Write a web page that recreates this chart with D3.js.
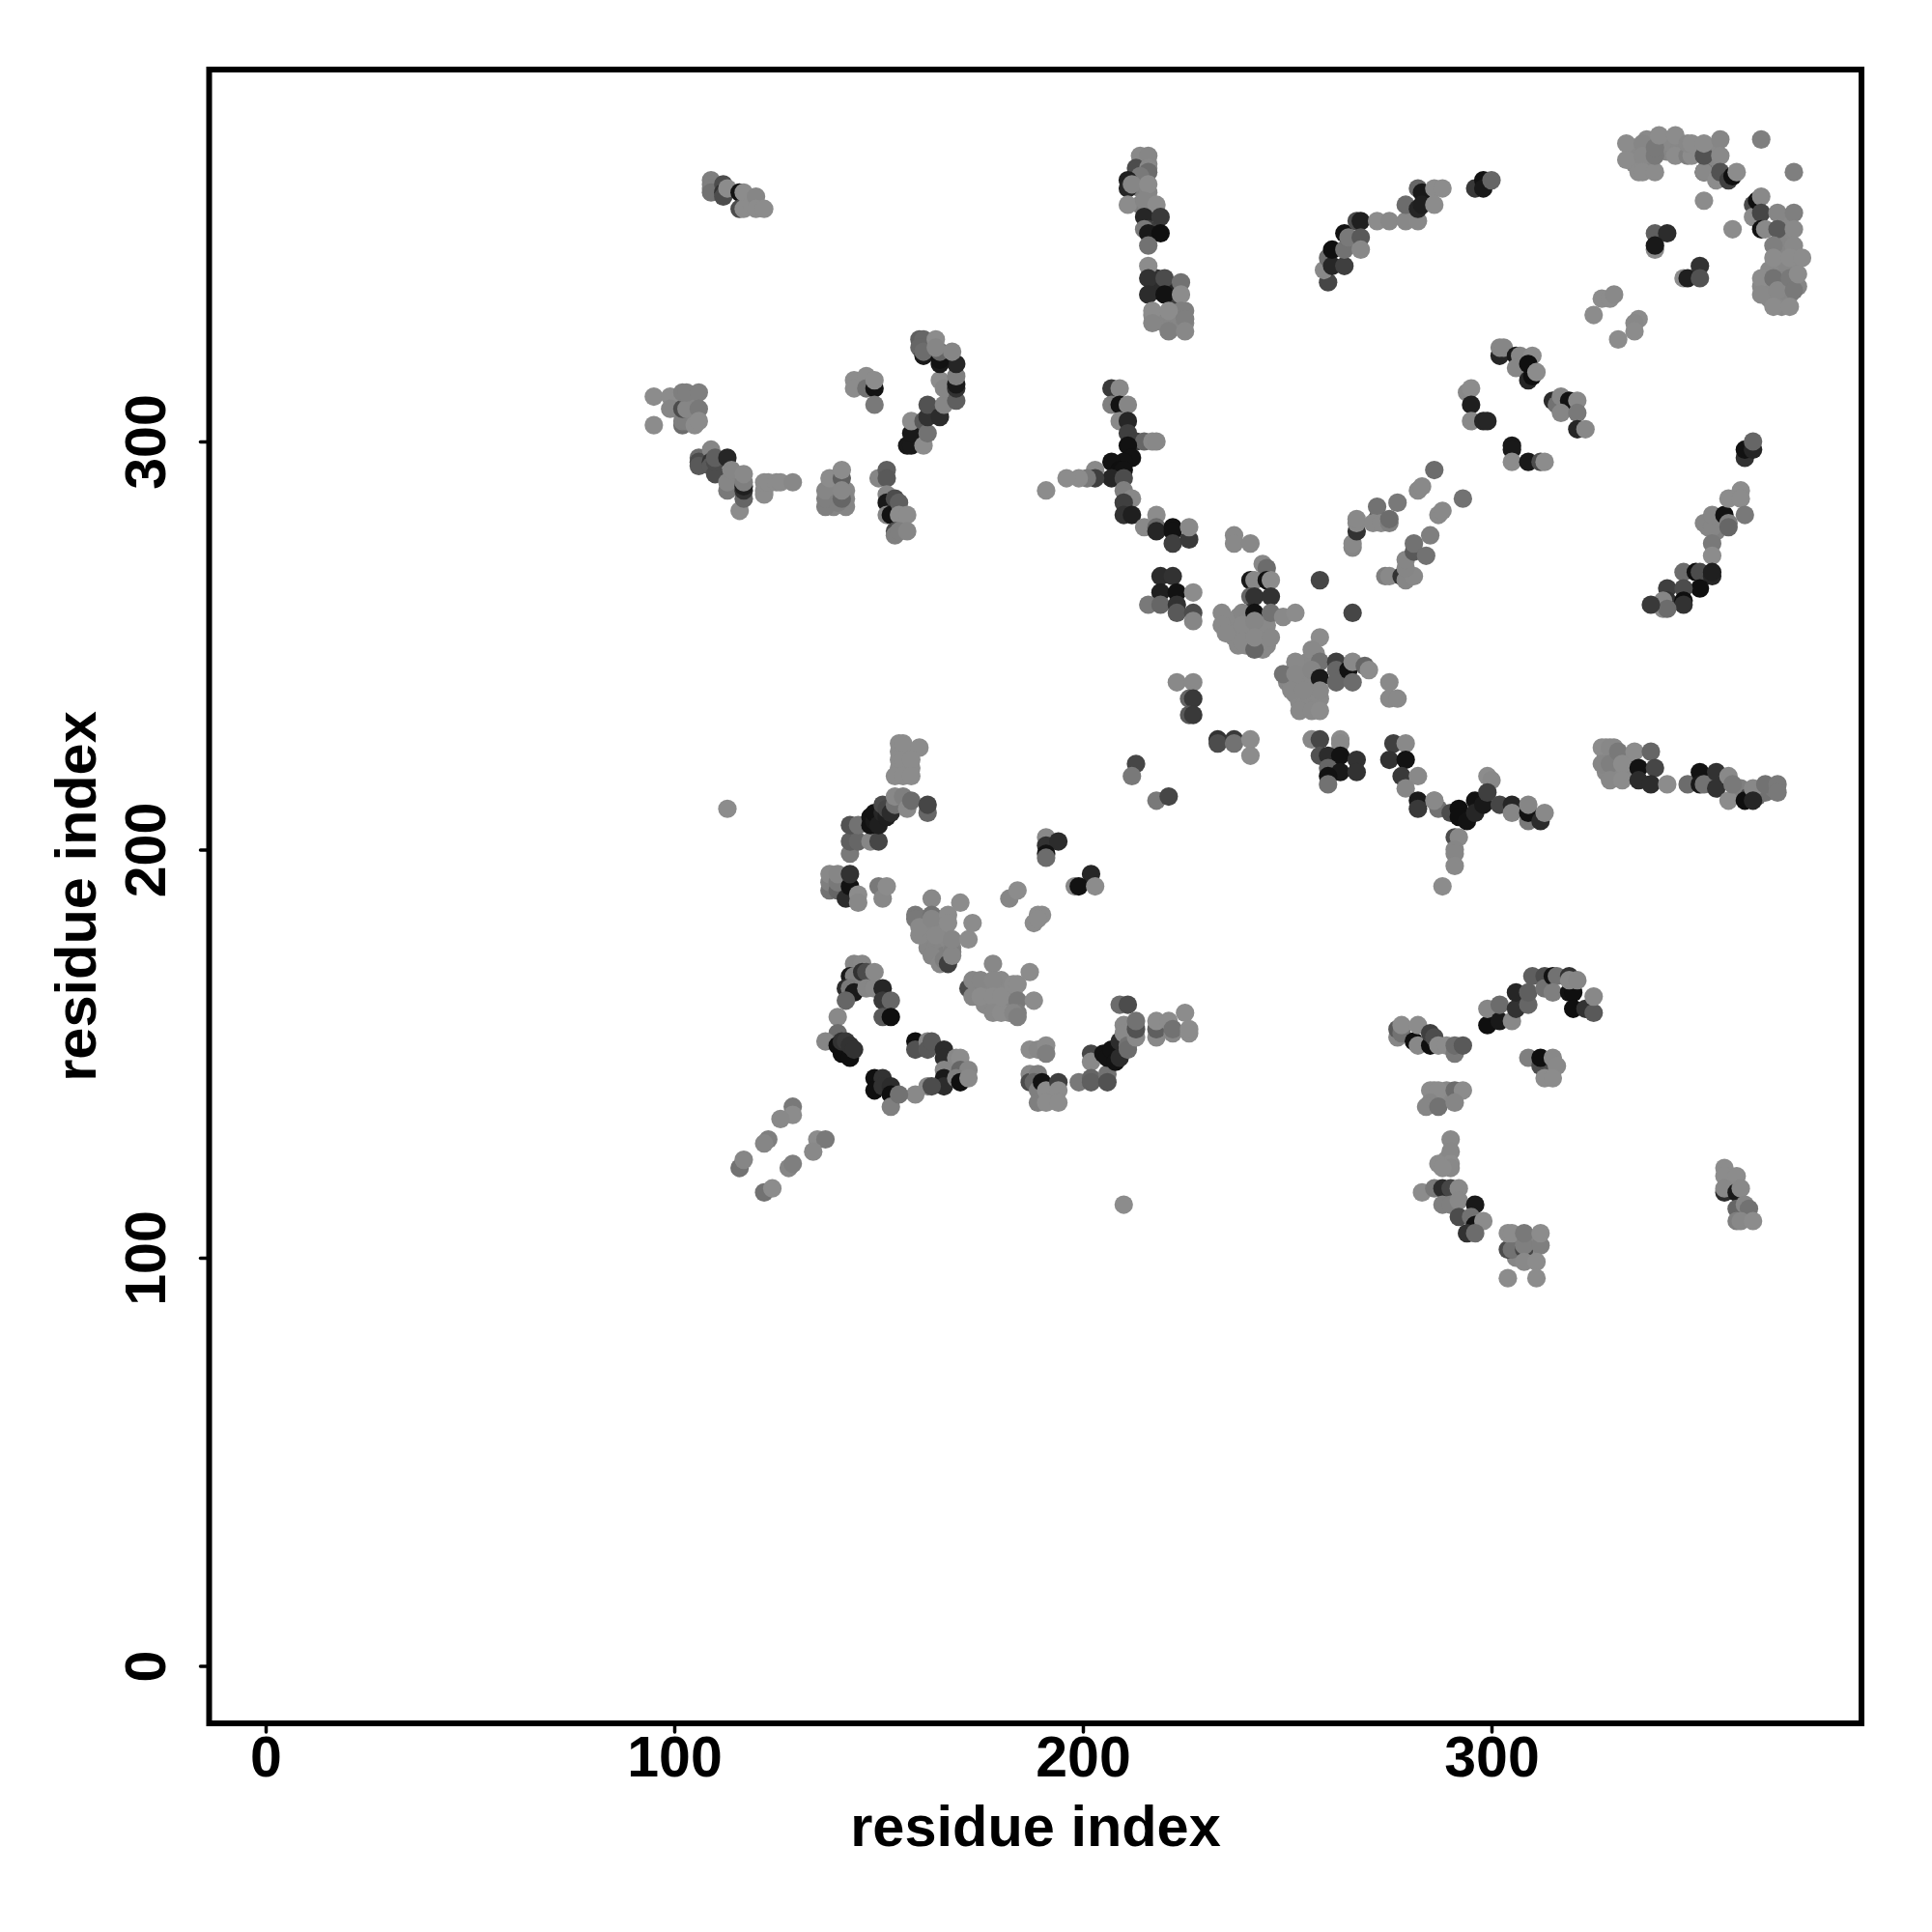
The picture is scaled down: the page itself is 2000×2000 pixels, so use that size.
<!DOCTYPE html>
<html><head><meta charset="utf-8">
<style>html,body{margin:0;padding:0;background:#fff}svg{display:block}</style>
<script src="https://cdn.jsdelivr.net/npm/d3@7/dist/d3.min.js"></script>
</head><body><div id="chart"></div>
<script>
// contacts as [residue i, residue j, score]; score 0 = faint, 1 = strongest
const denseGreyA=[[161,181,.05],[161,183,.05],[162,178,.05],[162,176,.05],[164,181,.03],[164,176,.05],[165,179,.03],[165,175,.05],[165,183,.03],[166,176,.05],[166,181,.03],[167,178,.03],[166,174,.1],[168,176,.05]];
const denseGreyB=[[174,166,.03],[176,166,.03],[176,164,.03],[177,163,.02],[177,167,.03],[179,166,.02],[180,168,.02],[181,165,.02],[181,162,.02],[179,162,.02],[182,163,.05],[182,160,.05],[183,165,.02],[176,162,.02]];
const denseVertical=[[217,331,.02],[219,330,.05],[220,329,.05],[222,329,.05],[223,331,.05],[225,329,.05],[225,332,.1],[218,340,.7],[218,337,.75],[222,338,.8],[222,335,.6],[214,368,.05],[216,368,.05],[214,362,.1],[216,361,.05],[214,358,.1]];
const denseTopRight=[[335,372,.02],[335,370,.02],[335,368,.02],[338,371,.05],[338,368,.05],[339,368,.05],[338,374,.02],[342,372,.1],[342,374,.02],[343,371,.05],[344,373,.02],[346,372,.03],[347,371,.03],[350,372,.02],[351,371,.03],[354,372,.02],[353,368,.05]];
const denseRightCluster=[[372,354,.03],[372,350,.03],[372,346,.03],[371,348,.05],[371,344,.03],[374,344,.03],[372,342,.05],[368,338,.03],[371,338,.05],[368,335,.03],[371,335,.05],[371,333,.02],[373,336,.05],[375,338,.05],[368,342,.02],[366,338,.02]];
const denseCenterA=[[236,256,.02],[236,254,.02],[237,252,.02],[238,254,.02],[238,257,.02],[238,250,.02],[240,253,.02],[240,250,.02],[240,256,.02],[241,252,.02],[243,254,.02],[243,251,.02],[244,249,.03],[244,253,.02],[245,250,.03],[245,255,.02]];
const denseCenterB=[[250,241,.05],[251,243,.03],[251,241,.03],[253,241,.03],[254,243,.03],[255,241,.03],[256,240,.03],[252,238,.03],[255,237,.02],[256,236,.02],[253,236,.02],[257,243,.03],[258,237,.02],[254,235,.02],[255,246,.03],[257,248,.02]];
const denseMisc=[[155,224,0],[157,224,0],[157,220,0],[156,220,0],[158,220,0],[155,220,0],[286,139,.03],[288,139,.03],[289,140,.03],[286,141,.03],[289,141,.03],[288,123,0],[289,124,0],[328,223,.03],[330,223,.05],[330,220,.05],[331,218,.02],[328,219,.03],[333,222,.02],[330,225,.02],[333,218,.02],[103,310,.05],[104,310,.05],[104,306,.05],[139,286,.05],[139,288,.03],[138,285,.05],[139,284,.05],[142,284,.05],[142,288,.03],[142,286,.05],[365,213,.3],[366,214,.2],[368,215,.2],[362,214,.3],[361,215,.1],[363,213,.5],[367,214,.2],[369,215,.15],[306,104,.02],[310,104,.05],[306,100,.05],[310,101,.02],[309,100,.02],[353,279,.05],[356,280,.1],[355,278,.1],[352,280,.05]];
const topLeftArc=[[109,364,.1],[109,363,.1],[109,362,.1],[109,361,.2],[112,363,.5],[112,361,.7],[112,360,.5],[113,362,0],[116,361,.95],[116,357,.5],[117,361,0],[117,357,0],[119,358,0],[120,360,.05],[120,357,0],[122,357,0]];
const leftBlock=[[95,311,0],[95,304,0],[99,311,0],[99,308,.05],[102,304,.25],[102,305,.1],[103,305,.1],[102,308,.5],[103,308,.05],[102,312,.1],[103,312,.1],[105,304,0],[106,312,.1],[106,308,.15],[106,305,0]];
const leftStrip=[[106,296,.25],[106,295,.5],[106,294,.4],[109,298,.05],[109,295,.7],[109,294,.4],[110,292,.5],[110,295,.5],[110,296,.35],[113,296,.8],[113,288,.15],[113,290,.05],[114,293,.05],[116,283,0],[117,286,.3],[117,288,.7],[117,289,.85],[117,290,.1],[117,292,.02],[122,288,0],[122,287,0],[122,290,0],[123,290,0],[125,290,0],[126,290,0],[129,290,.03]];
const leftColumns=[[137,284,.1],[137,286,.1],[137,288,.05],[138,291,0],[140,285,.1],[141,286,.3],[141,291,.35],[141,288,.03],[141,293,0]];
const midPair=[[144,315,0],[144,313,0],[147,316,0],[147,313,.2],[149,313,.95],[149,315,0],[149,309,.15]];
const upperHook=[[157,299,.9],[158,299,.9],[158,302,.9],[158,305,0],[161,299,0],[161,305,.4],[162,302,.2],[162,306,.7],[162,309,.45],[165,306,.75],[166,309,.05],[165,315,0],[166,313,.05],[169,310,.35],[169,313,.7],[169,314,.9],[169,316,.1],[169,319,.8],[160,325,.35],[161,325,.3],[160,323,.3],[161,321,.9],[161,322,.25],[164,325,0],[165,319,.9],[165,320,.95],[165,322,.3],[164,323,.05],[168,322,.05]];
const lowerHook=[[150,291,.05],[152,293,.35],[152,291,.4],[152,287,.05],[152,285,.9],[152,282,.05],[154,286,.5],[153,282,.95],[155,285,.35],[155,282,0],[157,282,0],[154,278,.5],[154,277,.1],[155,278,.1],[157,278,.05]];
const lonePoint=[[113,210,0],[210,113,0]];
const tallStack=[[155,226,0],[156,226,0],[160,225,0],[155,222,0],[156,222,0],[158,222,0],[154,218,0],[156,218,0],[158,218,0]];
const leftDiagonal=[[143,199,.15],[143,202,.35],[145,202,.3],[143,206,.45],[145,206,.2],[148,202,.05],[150,202,.55],[148,206,.95],[148,208,.95],[149,207,.9],[149,209,.95],[150,206,.85],[151,209,.8],[151,211,.5],[152,208,.85],[152,210,.55],[153,209,.75],[154,211,.2],[154,213,.03],[156,213,.1],[157,210,.02],[158,212,.25],[162,209,.3],[162,211,.55]];
const leftKnot=[[138,190,.2],[138,192,.1],[138,194,.03],[140,190,.3],[140,192,.15],[140,194,.05],[142,188,.75],[143,191,.95],[143,194,.7],[145,189,0],[145,187,.03],[150,191,.15],[151,188,.03],[152,191,0]];
const greyBlock=[[159,184,.15],[159,183,.15],[160,179,.02],[160,181,.02],[163,188,.03],[163,184,.2],[163,183,.05],[164,179,.02],[163,174,.05],[165,172,.03],[166,173,.1],[167,172,.6],[167,184,0],[167,182,0],[168,175,.1],[168,174,.05],[168,178,.05],[170,187,0],[172,178,0],[173,182,0],[182,188,.05],[184,190,0]];
const greyBlockLow=[[172,166,.5],[173,168,.05],[173,164,.05],[175,168,.05],[175,164,0],[178,172,.03],[178,168,.03],[178,164,0],[178,160,.02],[180,160,0],[180,164,0],[183,167,0],[184,167,0],[184,163,.15],[184,160,.12],[183,160,.05],[184,159,.1],[187,170,0],[188,163,0],[188,182,0],[189,184,0]];
const loopTop=[[144,172,.05],[146,172,.03],[143,169,.9],[144,169,.1],[142,166,.75],[143,166,.15],[144,165,.9],[146,170,.7],[147,170,.5],[147,166,.05],[149,166,.03],[149,170,.02],[151,166,.8],[151,163,.65],[153,163,.3],[151,159,.4],[153,159,.98],[142,163,.3],[140,159,.02],[140,155,.25]];
const loopLeft=[[137,153,.05],[140,152,.98],[141,150,.98],[143,149,.98],[141,153,.7],[142,153,.65],[143,152,.7],[144,151,.7]];
const loopRight=[[159,153,.98],[159,151,.45],[162,153,.05],[162,151,.4],[163,153,.4],[166,151,.75],[166,149,.75],[169,149,.03],[170,149,0],[166,146,.05],[170,146,.3],[172,146,.05],[166,144,.9],[166,142,.75],[169,144,.1],[170,143,.98],[172,144,.02],[162,142,.02],[163,142,.5],[159,140,.02]];
const loopBottom=[[149,144,.98],[151,144,.7],[149,141,.98],[151,142,.7],[153,142,.75],[153,140,.98],[153,137,.1],[155,140,.2]];
const lowDiagonal=[[129,137,.15],[129,135,0],[126,134,.02],[123,129,.1],[122,128,.05],[135,129,0],[137,129,.15],[134,126,.02],[116,122,.2],[117,124,.05],[128,122,.05],[129,123,.1],[122,116,.2],[124,117,0]];
const midKnot=[[187,151,0],[187,145,.03],[187,143,.5],[189,151,.03],[189,145,.1],[188,143,.3],[189,141,.1],[189,138,.1],[191,152,0],[191,150,.1],[190,143,.95],[191,141,0],[191,138,0],[194,143,.6],[194,141,0],[194,138,0]];
const midDiagonal=[[199,143,.15],[202,150,.55],[202,148,.02],[202,144,.3],[202,143,.35],[206,145,.2],[206,143,.45],[205,150,.95],[206,149,.95],[207,151,.95],[208,148,.95],[209,149,.75],[209,153,.75],[209,162,.25],[211,162,.5],[210,157,.02],[210,155,.02],[211,152,.2],[211,151,.25],[213,154,.02],[213,156,.45],[213,158,.2],[218,154,.02],[218,156,.35],[218,158,0],[221,158,0],[222,155,.03],[222,156,.2],[225,160,0],[226,155,0],[226,156,0]];
const rightRow=[[277,154,.05],[277,156,.4],[278,155,.2],[278,157,0],[281,153,.98],[282,152,.03],[282,157,0],[285,152,.98],[285,155,.6],[286,154,.5],[287,152,0],[289,152,0],[291,150,.15],[291,152,.25],[293,152,.4]];
const rightArc=[[299,157,.98],[299,161,.05],[302,158,.9],[302,162,.25],[305,158,.03],[306,161,.7],[306,165,.8],[309,162,.3],[309,165,.35],[310,169,.35],[313,169,.5],[313,166,.2],[315,169,.95],[316,169,.2],[315,165,.1],[319,165,.95],[320,165,.98],[319,169,.7],[320,161,.98],[319,168,.03],[321,168,.05],[323,161,.7],[325,160,.4],[325,164,.03]];
const rightSmall=[[309,149,.1],[312,147,.5],[312,149,.98],[315,149,.03],[316,147,.02],[313,144,0],[315,144,0]];
const rightMiddle=[[285,141,0],[287,141,0],[291,141,.25],[293,141,0],[285,138,.05],[284,137,.05],[287,137,.2],[291,138,.05],[290,129,.02],[290,126,.03],[290,123,0],[287,123,0],[290,122,.02],[288,122,0]];
const rightLower=[[283,116,0],[286,117,.15],[288,117,.75],[290,117,.55],[288,113,.1],[290,113,.1],[292,117,.02],[292,114,.03],[296,113,.9],[292,110,.5],[295,110,.2],[296,108,.95],[298,109,0],[294,106,.7],[296,106,.25]];
const rightBlock=[[304,102,.5],[305,102,.2],[304,106,0],[305,106,0],[308,102,.55],[308,103,.1],[308,106,.15],[312,103,.1],[312,106,0],[308,99,.02],[311,99,0],[304,95,0],[311,95,0]];
const farRight=[[357,122,0],[357,120,0],[360,120,0],[357,116,.75],[357,117,.03],[360,116,.9],[361,117,.02],[360,112,.3],[362,113,.05],[363,112,.2],[360,109,.1],[361,109,.03],[364,109,0]];
const verticalTop=[[214,370,.02],[216,370,.05],[213,367,.5],[216,367,.02],[216,366,.25],[214,365,.15],[211,364,.85],[211,362,.8],[212,363,.05],[216,363,0],[211,358,0],[215,359,.05],[218,358,0],[215,355,.8],[216,352,.6],[219,355,.65],[215,352,.15],[216,351,.9],[219,351,.98],[216,348,.2]];
const verticalLow=[[216,343,0],[216,340,.7],[220,340,.5],[216,336,.75],[220,336,.95],[224,339,.2],[224,336,0],[224,332,.1],[217,332,0],[217,329,.05],[221,332,0],[221,327,.1],[225,330,.1],[225,327,.03]];
const upperArc=[[260,339,.55],[259,342,.02],[260,345,.25],[261,343,.8],[261,347,.98],[264,343,.6],[264,347,.2],[264,351,.95],[265,350,.15],[267,354,.5],[268,354,.85],[268,350,.4],[268,347,.03],[272,354,0],[275,354,.03],[279,354,.03],[279,358,.25],[282,354,.02],[282,357,.8],[282,362,.3],[283,361,.9],[283,358,.85],[286,362,0],[286,358,0],[288,362,0],[296,362,.65],[298,364,.95],[298,362,.9],[300,364,.3]];
const topRight=[[333,373,0],[333,369,0],[336,366,0],[337,373,.05],[337,370,.02],[337,366,0],[340,366,0],[340,370,.15],[340,372,.15],[341,375,0],[345,375,0],[345,370,0],[348,370,.1],[349,370,0],[348,373,.03],[349,373,0],[352,366,.7],[352,366,.02],[352,370,.45],[352,373,0],[356,374,.05],[356,370,.02],[355,364,0],[356,366,.45],[358,364,.6],[359,365,.98],[360,366,0],[366,374,.1],[374,366,.1],[352,359,0],[359,352,0]];
const smallQuads=[[340,347,0],[340,351,.35],[343,351,.75],[340,348,.9],[351,343,.7],[347,340,0],[348,340,.85],[351,340,.45],[327,335,0],[329,335,0],[330,336,.02],[325,331,0],[336,330,0],[335,329,.02],[335,327,0],[331,325,0]];
const rightCluster=[[364,358,.5],[364,355,0],[365,359,.98],[366,360,.02],[366,356,.55],[366,352,.95],[367,352,.02],[370,356,.05],[374,356,.1],[370,352,.4],[374,352,.02],[369,348,.1],[374,348,.02],[369,345,0],[373,345,0],[376,345,0],[366,340,0],[366,336,.02],[369,340,.2],[370,337,.03],[373,340,.15],[374,337,.15],[375,341,0],[369,333,0],[373,333,0]];
const diagUpperA=[[302,321,.8],[302,323,.05],[303,323,.05],[306,321,.9],[307,321,.05],[306,318,.05],[310,321,0],[309,319,.98],[309,315,.8],[310,316,.98],[311,317,0]];
const diagUpperB=[[315,310,.75],[316,309,.2],[317,311,.05],[319,310,.95],[317,307,.05],[321,310,.02],[321,307,.15],[321,303,.8],[323,303,.03]];
const diagUpperC=[[294,312,.03],[295,313,0],[295,309,.85],[295,305,.03],[298,305,.8],[299,305,.8],[305,299,.9],[305,298,.9],[305,295,0],[309,295,.9],[312,295,.5],[313,295,0]];
const rightTopEnd=[[362,296,.7],[362,298,.95],[364,298,.8],[364,300,.3]];
const rightSpine=[[354,279,.05],[354,282,.05],[357,282,.95],[358,280,.1],[358,286,0],[361,288,0],[361,286,0],[362,282,.15],[358,279,.3],[354,275,.15],[354,272,0],[347,268,.25],[350,268,.98],[351,268,.5],[354,267,.8],[354,268,.85],[351,264,.98],[343,264,.6],[347,264,.5],[343,261,.7],[342,261,.05],[347,261,.98],[347,260,.7],[342,259,.02],[343,259,.25],[339,260,.65]];
const rightRows=[[327,225,0],[328,225,0],[329,225,.03],[327,221,.05],[329,221,.1],[329,217,.03],[331,224,.15],[332,221,0],[332,217,0],[335,224,0],[336,220,.95],[336,217,.75],[339,224,.3],[340,220,.55],[339,216,.75],[343,216,0]];
const rightRows2=[[348,216,.25],[351,219,.95],[351,216,.9],[352,216,.2],[355,219,.7],[355,215,.7],[358,218,.02],[358,212,0],[359,216,.15],[362,212,.98],[364,215,.03],[364,212,.8],[367,216,.2],[370,216,.15],[370,214,.15]];
const junctionRight=[[286,212,.05],[287,210,.2],[290,209,.5],[292,210,.98],[292,208,.98],[294,207,.95],[296,212,.95],[296,209,.8],[298,211,.9],[299,218,0],[300,217,.03],[299,214,.6],[302,211,.55],[305,211,.8],[305,209,.05],[309,207,.15],[309,209,.95],[309,211,.05],[312,207,.75],[313,209,.02],[291,203,.5],[292,203,.02],[291,200,.05],[291,199,.05],[291,196,.02],[288,191,0]];
const junctionTop=[[207,313,.65],[209,313,.02],[207,309,.1],[209,309,.95],[211,309,.05],[209,305,.02],[211,305,.8],[211,302,.6],[213,300,.6],[215,300,.3],[217,300,.02],[218,300,.03],[211,299,.95],[212,296,.95],[210,295,.95],[207,295,.95],[209,293,.98],[210,293,.95],[207,291,.8],[210,291,.5],[203,293,.02],[203,291,.6],[201,291,.15],[199,291,0],[196,291,0],[191,288,0],[210,288,.1],[212,286,.03],[210,285,.6],[210,282,.7],[212,282,.85]];
const junctionLow=[[215,279,.02],[218,282,0],[218,279,.25],[218,278,.8],[222,279,.95],[222,278,.95],[222,275,.6],[226,276,.65],[226,279,.02],[237,277,.02],[237,275,.02],[241,275,.03]];
const centerLeft=[[219,267,.75],[222,267,.7],[219,263,.85],[223,263,.95],[227,263,0],[216,260,.15],[219,260,.3],[223,260,.7],[223,258,.4],[227,258,.5],[227,256,.05]];
const centerTop=[[244,270,.03],[245,269,.25],[241,266,.9],[242,266,.03],[245,266,.95],[246,266,0],[241,262,.3],[242,262,.7],[246,262,.7],[241,258,.7],[239,258,.05],[242,258,.95],[246,258,.2],[249,257,.02],[252,258,0],[258,266,.55],[266,258,.55]];
const centerGrey=[[234,258,.02],[234,255,.02],[235,253,.02],[239,255,.02],[239,251,.02],[242,256,.05],[242,249,.3],[242,252,.02],[246,252,.03]];
const center=[[258,252,0],[256,249,.02],[258,246,.2],[252,246,.02],[249,243,.2],[252,243,.03],[256,244,.05],[258,242,.9],[258,239,.03],[251,239,.03],[254,239,.03],[253,234,.02],[256,234,.02],[258,234,0],[262,246,.6],[262,244,.3],[262,241,.3],[265,244,.95],[266,246,.02],[266,241,.25],[269,245,.3],[270,244,0],[275,241,.02],[275,237,.02],[277,237,.02]];
const centerLower=[[223,241,.02],[227,241,.02],[226,237,.3],[227,237,.65],[226,233,.4],[227,233,.65],[233,227,.7],[233,226,.5],[237,227,.65],[237,226,.2],[241,227,0],[241,223,0],[213,221,.55],[212,218,.15],[218,212,.15],[221,213,.55]];
const centerRowA=[[256,227,.03],[258,227,.55],[263,227,0],[263,226,.02],[258,223,.45],[260,223,.75],[263,223,.95],[267,222,.7],[260,220,.3],[263,219,.9],[267,219,.7],[260,218,.95],[260,216,.2]];
const centerRowB=[[276,226,.6],[279,226,.02],[275,222,.7],[279,222,.95],[278,218,.65],[282,218,.02],[279,215,.05],[282,212,.9],[282,210,.65],[286,212,.02]];
const lowerKnots=[[191,203,.02],[191,201,.7],[194,202,.75],[191,199,.95],[191,198,.25],[202,194,.8],[198,191,.02],[199,191,.95],[203,191,0],[190,184,0],[189,183,0]];
const diagBands=[[266,274,.05],[266,275,.02],[267,278,.7],[267,280,.02],[267,281,.02],[272,281,.5],[272,284,.2],[271,280,.02],[273,280,.02],[275,280,.1],[275,281,.25],[277,285,.15],[282,288,.02],[283,289,.02],[286,293,.25],[293,286,.2],[287,282,.02],[288,283,.02],[274,267,.1],[275,267,.02],[278,267,.7],[279,266,.05],[281,267,.03],[279,269,.05],[279,271,.05],[281,273,.4],[281,275,.2],[284,272,.2],[285,277,.1]];

const contacts=[].concat(denseGreyA,denseGreyB,denseVertical,denseTopRight,denseRightCluster,denseCenterA,denseCenterB,denseMisc,topLeftArc,leftBlock,leftStrip,leftColumns,midPair,upperHook,lowerHook,lonePoint,tallStack,leftDiagonal,leftKnot,greyBlock,greyBlockLow,loopTop,loopLeft,loopRight,loopBottom,lowDiagonal,midKnot,midDiagonal,rightRow,rightArc,rightSmall,rightMiddle,rightLower,rightBlock,farRight,verticalTop,verticalLow,upperArc,topRight,smallQuads,rightCluster,diagUpperA,diagUpperB,diagUpperC,rightTopEnd,rightSpine,rightRows,rightRows2,junctionRight,junctionTop,junctionLow,centerLeft,centerTop,centerGrey,center,centerLower,centerRowA,centerRowB,lowerKnots,diagBands);

const xTicks=[0,100,200,300];
const yTicks=[0,100,200,300];
const xTitle="residue index", yTitle="residue index";

const frame={l:216.5,r:1927,t:72,b:1784};
const x=d3.scaleLinear().domain([0,300]).range([275,1544]);
const y=d3.scaleLinear().domain([0,300]).range([1724.5,457]);
const grey=d3.scaleLinear().domain([0,1]).range([140,12]);
const font='"Liberation Sans",Arial,sans-serif';

const svg=d3.select("#chart").append("svg").attr("width",2000).attr("height",2000).attr("viewBox","0 0 2000 2000");
svg.append("rect").attr("width",2000).attr("height",2000).attr("fill","#fff");

svg.append("g").selectAll("circle").data(contacts).join("circle")
  .attr("cx",d=>x(d[0])).attr("cy",d=>y(d[1])).attr("r",9.6)
  .attr("fill",d=>{const g=Math.round(grey(d[2]));return `rgb(${g},${g},${g})`;});

svg.append("rect").attr("x",frame.l).attr("y",frame.t).attr("width",frame.r-frame.l).attr("height",frame.b-frame.t)
  .attr("fill","none").attr("stroke","#000").attr("stroke-width",6);

const gx=svg.append("g").attr("transform",`translate(0,${frame.b})`)
  .call(d3.axisBottom(x).tickValues(xTicks).tickSize(9).tickPadding(21).tickFormat(d3.format("d")));
const gy=svg.append("g").attr("transform",`translate(${frame.l},0)`)
  .call(d3.axisLeft(y).tickValues(yTicks).tickSize(9).tickPadding(0).tickFormat(d3.format("d")));
[gx,gy].forEach(g=>{
  g.select(".domain").remove();
  g.selectAll("line").attr("stroke","#000").attr("stroke-width",3.5).attr("stroke-linecap","round");
  g.selectAll("text").attr("fill","#000").style("font-family",font).style("font-weight","700").style("font-size","59px");
});
gx.selectAll("text").attr("dy",null).attr("y",null).attr("dominant-baseline",null)
  .attr("transform","translate(0,55)").attr("text-anchor","middle");
gy.selectAll("text").attr("x",null).attr("dy",null)
  .attr("transform",`translate(-45.5,0) rotate(-90)`).attr("text-anchor","middle");

svg.append("text").text(xTitle).attr("x",1072).attr("y",1911).attr("text-anchor","middle")
  .style("font-family",font).style("font-weight","700").style("font-size","59.5px");
svg.append("text").text(yTitle).attr("transform","translate(99,928) rotate(-90)").attr("text-anchor","middle")
  .style("font-family",font).style("font-weight","700").style("font-size","59.5px");
</script></body></html>
